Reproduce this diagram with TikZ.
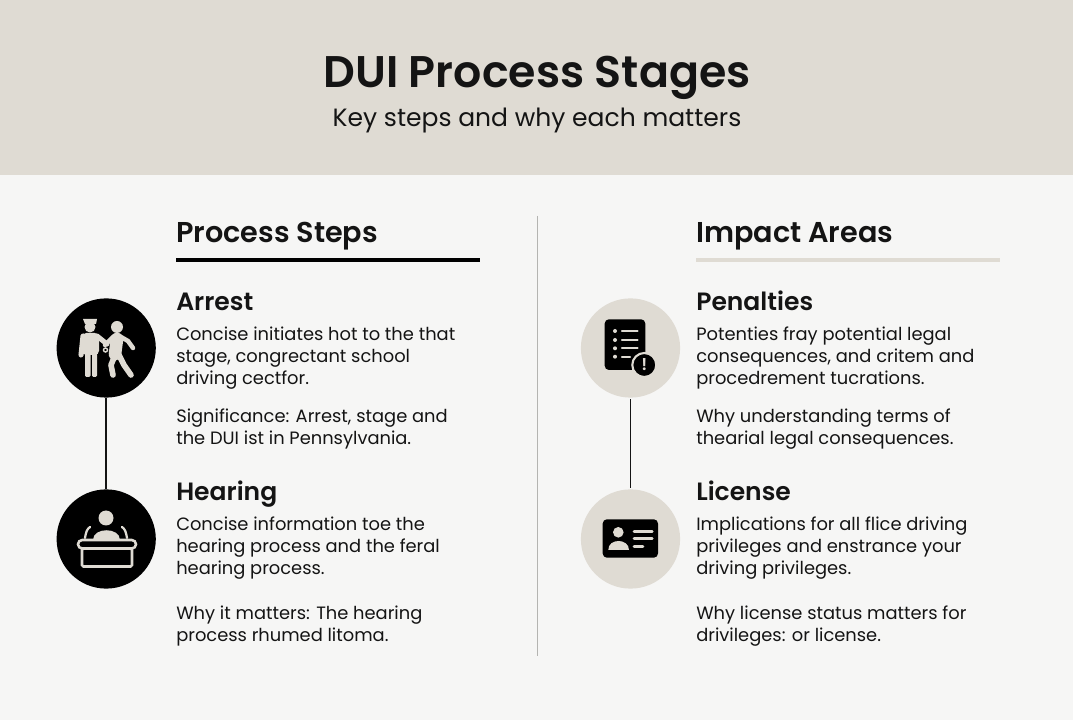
\documentclass[tikz,border=0pt]{standalone}
\usepackage{fontspec}
\setmainfont{Poppins}[BoldFont={Poppins SemiBold}]
\definecolor{sand}{HTML}{DFDBD3}
\definecolor{paper}{HTML}{F6F6F5}
\definecolor{ink}{HTML}{141414}
\definecolor{divider}{HTML}{B4B4B1}

\begin{document}
\begin{tikzpicture}[
    x=0.025cm, y=-0.025cm,
    titletext/.style={font=\fontsize{31.5}{36}\selectfont\bfseries, text=ink, inner sep=0pt, anchor=base},
    subtext/.style={font=\fontsize{17.8}{22}\selectfont, text=ink, inner sep=0pt, anchor=base},
    colhead/.style={font=\fontsize{20.4}{24}\selectfont\bfseries, text=ink, anchor=base west, inner sep=0pt},
    stagehead/.style={font=\fontsize{17.8}{20}\selectfont\bfseries, text=ink, anchor=base west, inner sep=0pt},
    bodytext/.style={font=\fontsize{12.7}{15.65}\selectfont, text=ink, anchor=north west, align=left, inner sep=0pt},
    darkdot/.style={circle, fill=black, minimum size=2.48cm, inner sep=0pt},
    sanddot/.style={circle, fill=sand, minimum size=2.48cm, inner sep=0pt},
    link/.style={line width=1.4pt, draw=ink},
    iconline/.style={line width=#1, line cap=round, line join=round},
    iconline/.default=3pt
]
\useasboundingbox (0,0) rectangle (1073,720);
\fill[paper] (0,0) rectangle (1073,720);
\fill[sand] (0,0) rectangle (1073,175);

% Header
\node[titletext] (title) at (537,88) {DUI Process Stages};
\node[subtext] (subtitle) at (537,127) {Key steps and why each matters};

% Columns
\coordinate (divtop) at (537,216);
\coordinate (divbot) at (537,656);
\draw[divider, line width=0.7pt] (divtop) -- (divbot);

\node[colhead] (steps) at (176,243) {Process Steps};
\node[colhead] (areas) at (696,243) {Impact Areas};
\coordinate (stepsL) at (176,260);
\coordinate (stepsR) at (480,260);
\coordinate (areasL) at (696,260);
\coordinate (areasR) at (1000,260);
\draw[black, line width=2.2pt] (stepsL) -- (stepsR);
\draw[sand, line width=2.2pt] (areasL) -- (areasR);

% Circles
\node[darkdot] (arrest) at (106.2,348) {};
\node[darkdot] (hearing) at (106.2,539) {};
\node[sanddot] (penalties) at (630.5,348) {};
\node[sanddot] (license) at (630.5,539) {};
\draw[link] (arrest) -- (hearing);
\draw[link, shorten >=1pt, shorten <=1pt] (penalties) -- (license);

% Arrest text
\node[stagehead] (arrestT) at (176,311) {Arrest};
\node[bodytext] (arrestA) at (176,327) {Concise initiates hot to the that\\stage, congrectant school\\driving cectfor.};
\node[bodytext] (arrestB) at (176,409) {Significance: Arrest, stage and\\the DUI ist in Pennsylvania.};

% Hearing text
\node[stagehead] (hearingT) at (176,501) {Hearing};
\node[bodytext] (hearingA) at (176,517) {Concise information toe the\\hearing process and the feral\\hearing process.};
\node[bodytext] (hearingB) at (176,606) {Why it matters: The hearing\\process rhumed litoma.};

% Penalties text
\node[stagehead] (penaltiesT) at (696,311) {Penalties};
\node[bodytext] (penaltiesA) at (696,327) {Potenties fray potential legal\\consequences, and critem and\\procedrement tucrations.};
\node[bodytext] (penaltiesB) at (696,409) {Why understanding terms of\\thearial legal consequences.};

% License text
\node[stagehead] (licenseT) at (696,501) {License};
\node[bodytext] (licenseA) at (696,517) {Implications for all flice driving\\privileges and enstrance your\\driving privileges.};
\node[bodytext] (licenseB) at (696,606) {Why license status matters for\\drivileges: or license.};

% Arrest icon
\begin{scope}[shift={(106,348)}]
\fill[sand] (-16,-21) circle (5.5);
\fill[sand] (-23,-29) -- (-9,-29) -- (-10,-24) -- (-21,-24) -- cycle;
\fill[sand, rounded corners=3pt] (-24,-15) rectangle (-7,7);
\fill[sand, rounded corners=1pt] (-21,5) rectangle (-15.5,29);
\fill[sand, rounded corners=1pt] (-14,5) rectangle (-9,29);
\draw[sand, iconline=3.6pt] (-23,-12) -- (-25,7);
\draw[sand, iconline=3.6pt] (-9,-12) -- (1,-4);
\fill[sand] (11,-21) circle (6);
\draw[sand, iconline=9pt] (11,-9) -- (9,6);
\draw[sand, iconline=4pt] (10,5) -- (5,17) -- (7,27);
\draw[sand, iconline=4pt] (12,5) -- (18,17) -- (25,27);
\draw[sand, iconline=3.2pt] (7,-11) -- (-1,-3);
\draw[sand, iconline=3.2pt] (15,-11) -- (22,-7) -- (27,0);
\draw[sand, line width=1pt] (-0.5,2) circle (2);
\end{scope}

% Hearing icon
\begin{scope}[shift={(106,539)}]
\fill[sand] (0,-21) circle (7.5);
\fill[sand] (-13,1) .. controls (-13,-12) and (14,-12) .. (14,1) -- cycle;
\draw[sand, iconline=1.6pt] (-21,-1) .. controls (-20,-7) and (-19,-10) .. (-16,-12);
\draw[sand, iconline=1.6pt] (21,-1) .. controls (20,-7) and (19,-10) .. (16,-12);
\draw[sand, line width=1.8pt, rounded corners=1pt] (-24,9.5) rectangle (26,27.5);
\draw[sand, line width=1.8pt, fill=black, rounded corners=3pt] (-28,1) rectangle (30,9.5);
\end{scope}

% Penalties icon
\begin{scope}[shift={(630,348)}]
\fill[black, rounded corners=3pt] (-25.3,-28.7) rectangle (15.3,22);
\foreach \rowy in {-17,-8,0.3,8.7} {
    \fill[sand] (-15,\rowy) circle (2);
}
\foreach \rowy in {-17,-8,0.3} {
    \draw[sand, iconline=1.6pt] (-8,\rowy) -- (7.5,\rowy);
}
\draw[sand, iconline=1.6pt] (-8,8.7) -- (0,8.7);
\node[circle, fill=black, draw=sand, line width=1.5pt, minimum size=0.6cm, inner sep=0pt, text=sand, font=\fontsize{12}{12}\selectfont\bfseries] (alert) at (14.3,17) {!};
\end{scope}

% License icon
\begin{scope}[shift={(630,539)}]
\fill[black, rounded corners=3pt] (-27.3,-19.7) rectangle (28,18.7);
\fill[sand] (-11.7,-6.7) circle (5.3);
\fill[sand] (-21.7,11) .. controls (-22,-1) and (-1,-1) .. (-1,11) -- cycle;
\draw[sand, iconline=1.8pt] (4,-7.7) -- (22.3,-7.7);
\draw[sand, iconline=1.8pt] (4,-0.3) -- (22.3,-0.3);
\draw[sand, iconline=1.8pt] (4,7.7) -- (13,7.7);
\end{scope}
\end{tikzpicture}
\end{document}
